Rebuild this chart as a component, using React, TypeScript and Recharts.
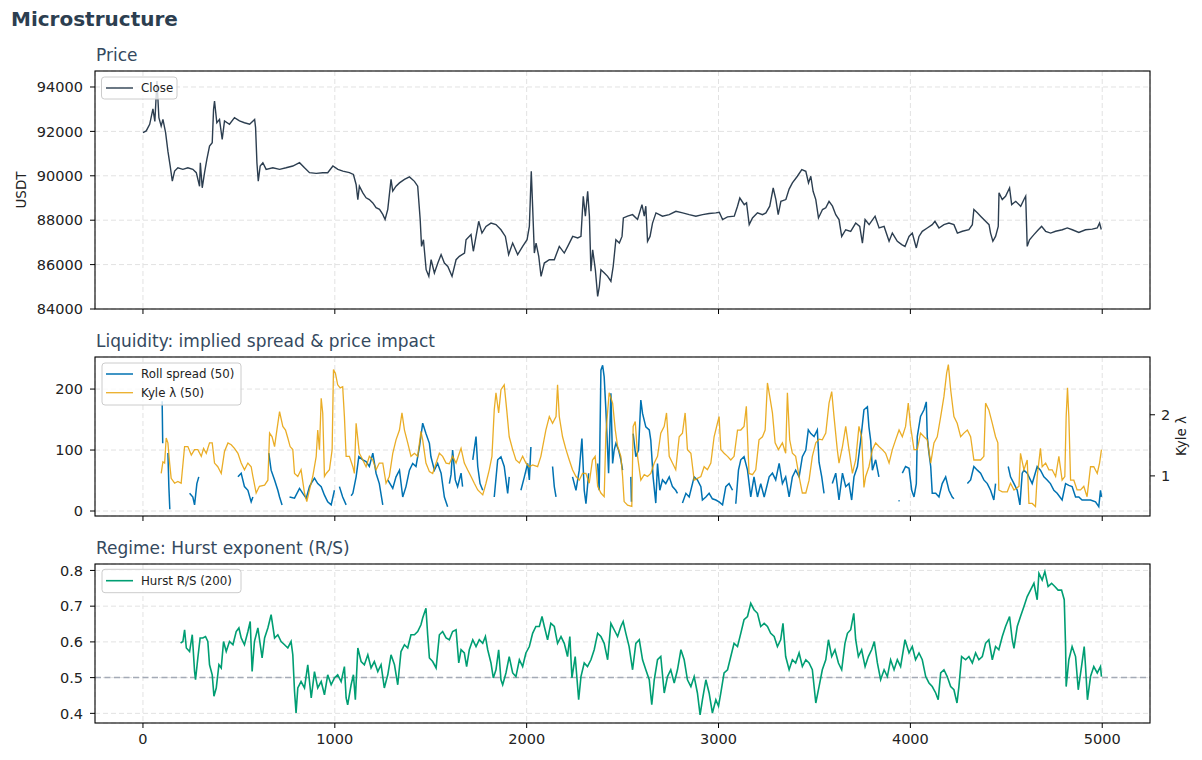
import { LineChart, Line, XAxis, YAxis, CartesianGrid, ReferenceLine } from "recharts";

const FONT = "DejaVu Sans, sans-serif";

// shared x axis (bar index)
const X_DOMAIN: [number, number] = [-250, 5249];
const X_TICKS = [0, 1000, 2000, 3000, 4000, 5000];
const PRICE_TICKS = [84000, 86000, 88000, 90000, 92000, 94000];
const SPREAD_TICKS = [0, 100, 200];
const KYLE_TICKS = [1, 2];
const HURST_TICKS = [0.4, 0.5, 0.6, 0.7, 0.8];

// [step, close]
const PRICE: [number, number][] = [
    [0, 91940], [17, 92020], [35, 92320], [52, 93010], [62, 92450], [73, 94270], [83, 92620], [95, 92240],
    [104, 92540], [118, 91940], [130, 91110], [142, 90440], [153, 89760], [165, 90210], [182, 90360], [208, 90290],
    [234, 90360], [260, 90290], [278, 90140], [295, 89530], [299, 90590], [309, 89460], [321, 90140], [333, 90740],
    [347, 91340], [361, 91490], [368, 92990], [373, 93370], [385, 92390], [399, 92540], [413, 91640], [425, 92470],
    [451, 92320], [477, 92620], [503, 92470], [529, 92390], [556, 92320], [582, 92540], [587, 92170], [594, 90590],
    [601, 89760], [611, 90440], [625, 90590], [642, 90290], [677, 90360], [712, 90290], [746, 90360], [781, 90440],
    [816, 90590], [842, 90360], [868, 90140], [903, 90110], [937, 90140], [963, 90140], [990, 90440], [1016, 90290],
    [1042, 90210], [1076, 90140], [1097, 90060], [1111, 89610], [1120, 88930], [1128, 89530], [1146, 89230], [1163, 89010],
    [1180, 88930], [1198, 88780], [1215, 88560], [1233, 88490], [1250, 88260], [1262, 88030], [1276, 88490], [1293, 89840],
    [1302, 89310], [1319, 89530], [1337, 89680], [1363, 89840], [1389, 89950], [1415, 89750], [1432, 89530], [1445, 88030],
    [1452, 86820], [1462, 87120], [1476, 85770], [1490, 85470], [1502, 86220], [1519, 85620], [1537, 86070], [1554, 86450],
    [1571, 86070], [1589, 85920], [1611, 85470], [1632, 86220], [1649, 86370], [1676, 86520], [1684, 87120], [1710, 87350],
    [1722, 86600], [1736, 87270], [1750, 87950], [1767, 87420], [1788, 87720], [1814, 87870], [1840, 87800], [1866, 87570],
    [1889, 87270], [1906, 86450], [1927, 86970], [1953, 86450], [1979, 86820], [2002, 87120], [2014, 87720], [2024, 90200],
    [2031, 88630], [2040, 86520], [2049, 86970], [2063, 86370], [2075, 85470], [2092, 86070], [2118, 86220], [2144, 86220],
    [2170, 86820], [2196, 86520], [2214, 86820], [2240, 87270], [2266, 87200], [2283, 87270], [2295, 89080], [2306, 88180],
    [2318, 89300], [2327, 88180], [2335, 85700], [2344, 86670], [2358, 85770], [2370, 84570], [2379, 85020], [2387, 85770],
    [2405, 85620], [2422, 85470], [2439, 85250], [2451, 85920], [2465, 87120], [2483, 86970], [2497, 87270], [2504, 88100],
    [2526, 88180], [2552, 88250], [2578, 88030], [2601, 88700], [2613, 88180], [2621, 88630], [2630, 87050], [2643, 87270],
    [2656, 87870], [2674, 88330], [2708, 88180], [2743, 88250], [2778, 88400], [2813, 88330], [2847, 88250], [2882, 88180],
    [2917, 88250], [2951, 88300], [2986, 88330], [3004, 88360], [3021, 88030], [3047, 88150], [3082, 88180], [3099, 88630],
    [3111, 89000], [3134, 88700], [3146, 88780], [3160, 87800], [3177, 88100], [3203, 88330], [3229, 88250], [3247, 88330],
    [3267, 88630], [3285, 89450], [3299, 88930], [3311, 88250], [3325, 88850], [3351, 88930], [3368, 89400], [3385, 89680],
    [3411, 89980], [3434, 90280], [3455, 90200], [3469, 89680], [3481, 89980], [3493, 89300], [3507, 88930], [3521, 88100],
    [3542, 88480], [3559, 88560], [3576, 88850], [3594, 88630], [3611, 88250], [3628, 88030], [3642, 87270], [3663, 87570],
    [3689, 87500], [3715, 87870], [3736, 87720], [3750, 86970], [3764, 88030], [3785, 87800], [3816, 88180], [3837, 87650],
    [3863, 87720], [3889, 87050], [3906, 87420], [3932, 87050], [3955, 86900], [3972, 86820], [3993, 87270], [4010, 87420],
    [4031, 86750], [4045, 87270], [4062, 87500], [4088, 87650], [4114, 87800], [4128, 87950], [4149, 87650], [4175, 87800],
    [4201, 87870], [4227, 87800], [4245, 87420], [4271, 87500], [4305, 87570], [4323, 87800], [4331, 88480], [4349, 88330],
    [4366, 88180], [4392, 87950], [4410, 87800], [4418, 87420], [4430, 87050], [4444, 87270], [4458, 87720], [4462, 89230],
    [4479, 88930], [4496, 89080], [4517, 89450], [4528, 88700], [4549, 88850], [4575, 88630], [4592, 88930], [4601, 89080],
    [4609, 86820], [4621, 87120], [4644, 87350], [4667, 87570], [4684, 87720], [4705, 87500], [4731, 87420], [4757, 87500],
    [4792, 87570], [4818, 87650], [4844, 87570], [4878, 87450], [4913, 87570], [4948, 87600], [4974, 87650], [4986, 87870],
    [4995, 87580],
];

// [step, roll spread]; null = gap in the series
const ROLL: [number, number | null][] = [
    [100, 180], [103, 111], [110, null],
    [130, 95], [135, 40], [140, 3], [145, null],
    [243, 29], [260, 23], [269, 10], [281, 45], [291, 56], [300, null],
    [495, 56], [512, 62], [529, 40], [547, 34], [564, 15], [573, 23], [580, null],
    [656, 95], [668, 67], [686, 51], [703, 34], [712, 23], [725, 10], [735, null],
    [764, 23], [790, 21], [816, 37], [833, 29], [851, 21], [868, 40], [882, 48], [894, 54], [911, 45], [929, 40],
    [946, 26], [963, 15], [981, 10], [998, 34], [1008, null],
    [1024, 40], [1041, 23], [1059, 10], [1070, null],
    [1085, 25], [1094, 29], [1111, 56], [1125, 89], [1146, 84], [1163, 81], [1180, 73], [1198, 95], [1215, 62],
    [1232, 45], [1250, 10], [1262, null],
    [1276, 51], [1302, 37], [1319, 56], [1337, 67], [1354, 23], [1371, 40], [1389, 67], [1406, 78], [1423, 73],
    [1441, 105], [1458, 144], [1475, 127], [1493, 111], [1501, 89], [1519, 67], [1536, 78], [1554, 62], [1571, 23],
    [1588, 7], [1592, null],
    [1597, 45], [1606, 60], [1614, 100], [1628, 51], [1640, 40], [1658, 62], [1666, 40], [1690, null],
    [1719, 84], [1736, 122], [1745, 73], [1757, 45], [1771, 34], [1800, null],
    [1831, 23], [1849, 84], [1866, 89], [1883, 73], [1901, 29], [1909, 56], [1940, null],
    [1970, 34], [1988, 56], [2005, 78], [2014, 51], [2022, 105], [2060, null],
    [2135, 73], [2144, 40], [2153, 23], [2200, null],
    [2239, 56], [2257, 34], [2274, 67], [2288, 119], [2300, 34], [2309, 12], [2323, 62], [2345, null],
    [2370, 78], [2378, 34], [2387, 231], [2396, 239], [2404, 220], [2413, 165], [2427, 62], [2439, 193], [2448, 78],
    [2456, 100], [2465, 111], [2479, 100], [2491, 84], [2500, 67], [2520, null],
    [2543, 56], [2546, 15], [2550, null],
    [2555, 127], [2569, 89], [2583, 100], [2595, 182], [2604, 160], [2621, 138], [2639, 133], [2647, 116], [2659, 56],
    [2673, 13], [2682, 78], [2694, 34], [2708, 51], [2725, 45], [2743, 56], [2760, 40], [2777, 34], [2786, 29], [2800, null],
    [2812, 13], [2830, 29], [2847, 23], [2873, 56], [2890, 51], [2908, 40], [2916, 18], [2934, 23], [2951, 29], [2968, 20],
    [2986, 18], [3003, 15], [3021, 10], [3038, 40], [3055, 45], [3073, 34], [3080, null],
    [3090, 12], [3104, 67], [3116, 84], [3133, 89], [3151, 67], [3168, 23], [3185, 56], [3203, 23], [3220, 45], [3238, 23],
    [3264, 56], [3281, 62], [3298, 51], [3316, 78], [3333, 45], [3350, 56], [3368, 23], [3385, 56], [3402, 67], [3420, 56],
    [3437, 89], [3455, 100], [3468, 133], [3481, 127], [3498, 122], [3515, 133], [3524, 80], [3538, 56], [3550, 29], [3560, null],
    [3593, 45], [3611, 62], [3628, 18], [3646, 62], [3663, 40], [3680, 45], [3694, 18], [3706, 56], [3724, 73], [3741, 116],
    [3758, 166], [3776, 171], [3784, 138], [3793, 116], [3802, 67], [3819, 84], [3836, 56], [3850, null],
    [3938, 17], [3944, 17], [3950, null],
    [3958, 62], [3975, 73], [3993, 70], [4007, 34], [4019, 23], [4031, 45], [4036, 122], [4053, 155], [4071, 166], [4083, 179],
    [4088, 122], [4097, 95], [4106, 73], [4114, 29], [4132, 29], [4149, 23], [4166, 45], [4184, 56], [4201, 34], [4218, 23],
    [4227, 20], [4250, null],
    [4297, 45], [4314, 51], [4331, 73], [4349, 67], [4366, 62], [4383, 51], [4401, 45], [4418, 34], [4435, 18], [4444, 45], [4470, null],
    [4510, 73], [4522, 56], [4540, 45], [4557, 34], [4571, 10], [4583, 62], [4592, 67], [4609, 62], [4635, 45], [4661, 73],
    [4678, 67], [4696, 56], [4713, 51], [4730, 45], [4748, 34], [4765, 29], [4791, 18], [4809, 45], [4826, 42], [4843, 40],
    [4861, 23], [4878, 23], [4895, 18], [4913, 18], [4939, 18], [4965, 15], [4982, 7], [4991, 34], [4996, 23],
];

// [step, Kyle lambda]
const KYLE: [number, number][] = [
    [95, 1.04], [104, 1.23], [113, 1.21], [121, 1.62], [130, 1.54], [139, 1.21], [147, 0.96], [165, 0.88], [182, 0.91],
    [199, 0.88], [217, 1.48], [234, 1.48], [252, 1.34], [269, 1.43], [286, 1.43], [304, 1.32], [316, 1.45], [330, 1.37],
    [347, 1.54], [361, 1.54], [373, 1.21], [390, 1.15], [408, 1.04], [425, 1.4], [443, 1.54], [460, 1.51], [477, 1.45],
    [495, 1.37], [512, 1.21], [529, 1.1], [547, 1.21], [564, 1.15], [573, 0.99], [590, 0.72], [607, 0.83], [634, 0.85],
    [651, 0.93], [660, 1.7], [673, 1.64], [686, 1.48], [698, 1.75], [712, 2.05], [729, 1.81], [743, 1.75], [755, 1.62],
    [767, 1.48], [781, 1.43], [790, 1.04], [807, 0.99], [824, 1.1], [842, 0.72], [854, 0.58], [868, 0.77], [885, 0.99],
    [903, 1.32], [911, 1.75], [920, 1.43], [929, 2.27], [937, 2.03], [946, 0.99], [955, 1.04], [972, 1.1], [986, 1.43],
    [993, 2.74], [1003, 2.68], [1015, 2.49], [1028, 2.44], [1041, 2.46], [1050, 1.97], [1059, 1.32], [1076, 1.32],
    [1094, 1.15], [1102, 1.04], [1111, 1.86], [1128, 1.37], [1146, 1.26], [1163, 1.15], [1180, 1.32], [1198, 1.26],
    [1215, 1.1], [1232, 1.21], [1250, 1.21], [1267, 0.88], [1284, 0.99], [1302, 1.37], [1319, 1.59], [1337, 1.75],
    [1350, 2.03], [1363, 1.75], [1380, 1.54], [1397, 1.32], [1415, 1.37], [1432, 1.32], [1449, 1.73], [1458, 1.59],
    [1475, 1.21], [1493, 1.07], [1510, 1.04], [1528, 1.21], [1545, 1.37], [1562, 1.32], [1580, 1.21], [1597, 1.2],
    [1614, 1.32], [1632, 1.21], [1649, 1.37], [1658, 1.45], [1675, 1.21], [1692, 1.1], [1710, 0.99], [1727, 0.88],
    [1745, 0.77], [1771, 0.69], [1788, 0.88], [1805, 1.1], [1819, 1.32], [1831, 2.08], [1840, 2.36], [1854, 2.03],
    [1866, 2.41], [1883, 2.49], [1896, 2.08], [1909, 1.64], [1927, 1.43], [1944, 1.26], [1962, 1.21], [1979, 1.32],
    [1996, 1.21], [2014, 1.15], [2031, 1.18], [2057, 1.15], [2074, 1.32], [2100, 1.75], [2118, 1.97], [2135, 1.86],
    [2153, 1.97], [2161, 2.49], [2170, 1.97], [2187, 1.64], [2205, 1.43], [2222, 1.26], [2239, 1.1], [2257, 0.99],
    [2274, 0.93], [2291, 1.04], [2309, 1.04], [2326, 0.88], [2343, 1.26], [2357, 1.32], [2370, 0.83], [2387, 0.72],
    [2404, 0.66], [2413, 1.7], [2430, 2.36], [2448, 2.19], [2462, 1.75], [2474, 1.48], [2491, 1.32], [2500, 0.99],
    [2508, 0.58], [2526, 0.52], [2548, 0.5], [2555, 1.81], [2566, 1.89], [2578, 1.32], [2595, 0.93], [2613, 1.02],
    [2630, 0.99], [2647, 1.04], [2665, 1.21], [2682, 1.32], [2699, 1.7], [2717, 1.81], [2729, 2.03], [2743, 1.32],
    [2760, 1.21], [2777, 1.1], [2795, 1.64], [2812, 1.7], [2826, 2.03], [2838, 1.43], [2856, 1.37], [2873, 0.93],
    [2890, 0.96], [2908, 0.99], [2925, 1.15], [2942, 1.1], [2960, 1.21], [2977, 1.64], [2994, 1.86], [3003, 1.97],
    [3012, 1.43], [3029, 1.37], [3047, 1.32], [3064, 1.26], [3081, 1.32], [3099, 1.75], [3116, 1.75], [3133, 1.81],
    [3145, 2.14], [3159, 1.04], [3177, 1.02], [3194, 1.1], [3211, 1.59], [3229, 1.64], [3243, 1.75], [3255, 2.52],
    [3267, 2.3], [3281, 2.03], [3295, 1.54], [3312, 1.43], [3333, 1.54], [3350, 1.37], [3359, 2.36], [3371, 1.59],
    [3385, 1.37], [3402, 1.32], [3420, 0.99], [3437, 0.72], [3455, 0.72], [3472, 0.93], [3489, 1.32], [3507, 1.54],
    [3524, 1.6], [3541, 1.59], [3559, 1.7], [3576, 2.19], [3590, 2.38], [3602, 1.97], [3619, 1.43], [3628, 1.21],
    [3646, 1.48], [3663, 1.81], [3680, 1.43], [3698, 1.04], [3715, 1.26], [3732, 1.81], [3746, 1.64], [3758, 0.81],
    [3767, 0.99], [3784, 1.15], [3802, 1.43], [3819, 1.54], [3836, 1.48], [3854, 1.43], [3871, 1.37], [3889, 1.21],
    [3906, 1.43], [3923, 1.59], [3941, 1.75], [3958, 1.64], [3975, 1.81], [3989, 2.19], [4001, 1.81], [4019, 1.43],
    [4036, 1.43], [4053, 1.7], [4071, 1.64], [4088, 1.59], [4106, 1.21], [4123, 1.54], [4140, 1.64], [4158, 1.97],
    [4175, 2.3], [4189, 2.68], [4198, 2.82], [4210, 2.41], [4227, 1.97], [4244, 1.86], [4262, 1.64], [4279, 1.7],
    [4297, 1.75], [4314, 1.64], [4331, 1.26], [4349, 1.26], [4366, 1.26], [4383, 1.32], [4392, 2.19], [4409, 2.08],
    [4427, 1.86], [4444, 1.64], [4456, 1.54], [4461, 0.77], [4479, 0.74], [4505, 0.74], [4522, 0.88], [4540, 0.77],
    [4566, 0.83], [4574, 1.37], [4592, 1.1], [4609, 1.26], [4618, 0.55], [4635, 0.55], [4652, 0.5], [4661, 0.99],
    [4678, 1.45], [4687, 1.15], [4705, 1.21], [4722, 1.1], [4739, 1.1], [4757, 0.99], [4774, 1.32], [4791, 0.93],
    [4805, 0.99], [4812, 1.97], [4819, 2.44], [4826, 1.97], [4835, 0.93], [4852, 0.93], [4869, 0.77], [4887, 0.77],
    [4904, 0.83], [4921, 0.66], [4939, 1.15], [4956, 1.15], [4974, 1.04], [4986, 1.21], [4996, 1.43],
];

// [step, Hurst R/S]
const HURST: [number, number][] = [
    [196, 0.597], [208, 0.601], [217, 0.634], [226, 0.583], [243, 0.573], [257, 0.62], [269, 0.517], [274, 0.494],
    [286, 0.555], [298, 0.611], [312, 0.611], [326, 0.615], [338, 0.601], [347, 0.536], [361, 0.508], [370, 0.448],
    [382, 0.471], [396, 0.536], [408, 0.527], [420, 0.601], [434, 0.573], [451, 0.601], [469, 0.592], [486, 0.629],
    [500, 0.639], [512, 0.611], [529, 0.592], [547, 0.629], [559, 0.657], [569, 0.517], [581, 0.601], [599, 0.639],
    [621, 0.555], [634, 0.611], [651, 0.639], [668, 0.676], [686, 0.611], [703, 0.62], [720, 0.601], [738, 0.592],
    [755, 0.583], [772, 0.601], [781, 0.564], [790, 0.462], [798, 0.401], [807, 0.471], [824, 0.489], [842, 0.471],
    [859, 0.536], [877, 0.443], [894, 0.517], [911, 0.471], [929, 0.489], [946, 0.452], [963, 0.508], [981, 0.48],
    [998, 0.499], [1015, 0.508], [1033, 0.489], [1050, 0.531], [1059, 0.443], [1067, 0.424], [1085, 0.48], [1097, 0.508],
    [1107, 0.438], [1120, 0.583], [1137, 0.545], [1154, 0.536], [1172, 0.564], [1189, 0.527], [1206, 0.545], [1224, 0.517],
    [1241, 0.536], [1258, 0.471], [1276, 0.508], [1293, 0.564], [1311, 0.536], [1328, 0.48], [1345, 0.573], [1363, 0.592],
    [1380, 0.583], [1397, 0.62], [1415, 0.62], [1432, 0.629], [1449, 0.648], [1458, 0.667], [1475, 0.694], [1484, 0.62],
    [1493, 0.555], [1510, 0.545], [1528, 0.527], [1545, 0.62], [1562, 0.629], [1580, 0.611], [1597, 0.606], [1614, 0.629],
    [1632, 0.634], [1646, 0.541], [1658, 0.578], [1675, 0.569], [1687, 0.531], [1701, 0.578], [1719, 0.606], [1736, 0.587],
    [1753, 0.606], [1771, 0.596], [1785, 0.615], [1797, 0.578], [1814, 0.541], [1826, 0.499], [1840, 0.522], [1854, 0.578],
    [1866, 0.494], [1875, 0.48], [1892, 0.513], [1909, 0.559], [1927, 0.513], [1944, 0.503], [1962, 0.55], [1979, 0.531],
    [1996, 0.569], [2014, 0.587], [2031, 0.624], [2048, 0.643], [2066, 0.643], [2080, 0.671], [2092, 0.643], [2109, 0.606],
    [2126, 0.652], [2144, 0.643], [2161, 0.596], [2179, 0.615], [2196, 0.596], [2213, 0.559], [2225, 0.615], [2236, 0.499],
    [2253, 0.559], [2271, 0.438], [2283, 0.503], [2300, 0.541], [2317, 0.531], [2335, 0.55], [2352, 0.578], [2370, 0.624],
    [2387, 0.615], [2404, 0.596], [2422, 0.55], [2439, 0.652], [2456, 0.634], [2474, 0.615], [2491, 0.643], [2503, 0.657],
    [2517, 0.624], [2534, 0.587], [2552, 0.522], [2569, 0.596], [2587, 0.606], [2604, 0.55], [2621, 0.522], [2639, 0.494],
    [2652, 0.424], [2665, 0.494], [2682, 0.55], [2699, 0.559], [2717, 0.457], [2734, 0.503], [2751, 0.522], [2769, 0.485],
    [2786, 0.522], [2804, 0.578], [2821, 0.55], [2838, 0.494], [2856, 0.475], [2873, 0.503], [2890, 0.457], [2904, 0.396],
    [2916, 0.438], [2934, 0.494], [2951, 0.457], [2968, 0.401], [2986, 0.438], [3000, 0.42], [3012, 0.457], [3029, 0.513],
    [3047, 0.522], [3064, 0.559], [3081, 0.596], [3099, 0.587], [3116, 0.624], [3133, 0.662], [3151, 0.671], [3168, 0.708],
    [3185, 0.69], [3203, 0.68], [3220, 0.643], [3238, 0.652], [3255, 0.643], [3272, 0.624], [3290, 0.615], [3307, 0.587],
    [3324, 0.606], [3336, 0.652], [3350, 0.559], [3368, 0.522], [3385, 0.55], [3402, 0.541], [3420, 0.569], [3437, 0.531],
    [3455, 0.55], [3472, 0.541], [3489, 0.522], [3507, 0.429], [3524, 0.475], [3541, 0.522], [3559, 0.55], [3573, 0.606],
    [3590, 0.559], [3607, 0.578], [3625, 0.541], [3642, 0.522], [3659, 0.596], [3672, 0.624], [3689, 0.634], [3705, 0.68],
    [3715, 0.606], [3729, 0.559], [3746, 0.578], [3764, 0.531], [3781, 0.559], [3798, 0.578], [3812, 0.601], [3828, 0.541],
    [3845, 0.494], [3863, 0.522], [3880, 0.503], [3897, 0.55], [3915, 0.522], [3932, 0.55], [3949, 0.531], [3972, 0.606],
    [3993, 0.569], [4010, 0.587], [4027, 0.55], [4045, 0.569], [4062, 0.55], [4080, 0.503], [4097, 0.485], [4114, 0.475],
    [4132, 0.457], [4145, 0.438], [4158, 0.513], [4175, 0.522], [4192, 0.503], [4210, 0.475], [4227, 0.466], [4243, 0.429],
    [4253, 0.475], [4267, 0.559], [4288, 0.55], [4305, 0.559], [4323, 0.541], [4340, 0.569], [4357, 0.55], [4375, 0.559],
    [4392, 0.596], [4409, 0.606], [4427, 0.55], [4444, 0.587], [4461, 0.578], [4479, 0.615], [4496, 0.643], [4517, 0.671],
    [4531, 0.606], [4540, 0.582], [4557, 0.643], [4574, 0.671], [4592, 0.699], [4609, 0.727], [4626, 0.745], [4644, 0.764],
    [4661, 0.718], [4670, 0.792], [4687, 0.773], [4701, 0.797], [4718, 0.755], [4736, 0.764], [4753, 0.755], [4770, 0.745],
    [4788, 0.745], [4802, 0.718], [4809, 0.587], [4812, 0.475], [4826, 0.55], [4843, 0.587], [4861, 0.559], [4875, 0.466],
    [4892, 0.531], [4906, 0.587], [4913, 0.531], [4923, 0.438], [4939, 0.503], [4956, 0.531], [4974, 0.513], [4991, 0.531],
    [4996, 0.503],
];

const toRows = (pairs: [number, number | null][]) => pairs.map(([step, value]) => ({ step, value }));

const tickStyle = { fontSize: 14.5, fill: "#222", fontFamily: FONT };
const gridStroke = "#e2e2e2";

// plot frames (matplotlib spines)
const FRAMES = [
    { y: 71, h: 238 },
    { y: 357, h: 159 },
    { y: 564, h: 159 },
];

export default function App() {
    const priceRows = toRows(PRICE);
    const rollRows = toRows(ROLL);
    const kyleRows = toRows(KYLE);
    const hurstRows = toRows(HURST);

    const xAxisCommon = {
        type: "number" as const,
        dataKey: "step",
        domain: X_DOMAIN,
        ticks: X_TICKS,
        allowDataOverflow: true,
        axisLine: false,
        tickLine: { stroke: "#000" },
        tickSize: 5,
    };

    return (
        <div style={{ position: "absolute", left: 0, top: 0, width: 1202, height: 760, background: "#fff" }}>
            <div style={{ position: "absolute", left: 0, top: 0 }}>
                <LineChart width={1202} height={329} margin={{ top: 71, right: 52, bottom: 0, left: 0 }}>
                    <CartesianGrid stroke={gridStroke} strokeDasharray="5 3" />
                    <XAxis {...xAxisCommon} height={20} tickFormatter={() => ""} />
                    <YAxis
                        type="number"
                        domain={[84000, 94720]}
                        ticks={PRICE_TICKS}
                        allowDataOverflow
                        axisLine={false}
                        tickLine={{ stroke: "#000" }}
                        tickSize={5}
                        tickMargin={7}
                        width={95}
                        tick={tickStyle}
                    />
                    <Line data={priceRows} dataKey="value" stroke="#2c3e50" strokeWidth={1.4} dot={false} isAnimationActive={false} />
                </LineChart>
            </div>

            <div style={{ position: "absolute", left: 0, top: 330 }}>
                <LineChart width={1202} height={206} margin={{ top: 27, right: 0, bottom: 0, left: 0 }}>
                    <CartesianGrid stroke={gridStroke} strokeDasharray="5 3" yAxisId="left" />
                    <XAxis {...xAxisCommon} height={20} tickFormatter={() => ""} />
                    <YAxis
                        yAxisId="left"
                        type="number"
                        domain={[-8.2, 252.6]}
                        ticks={SPREAD_TICKS}
                        allowDataOverflow
                        axisLine={false}
                        tickLine={{ stroke: "#000" }}
                        tickSize={5}
                        tickMargin={7}
                        width={95}
                        tick={tickStyle}
                    />
                    <YAxis
                        yAxisId="right"
                        orientation="right"
                        type="number"
                        domain={[0.344, 2.945]}
                        ticks={KYLE_TICKS}
                        allowDataOverflow
                        axisLine={false}
                        tickLine={{ stroke: "#000" }}
                        tickSize={5}
                        tickMargin={6}
                        width={52}
                        tick={tickStyle}
                    />
                    <Line yAxisId="left" data={rollRows} dataKey="value" stroke="#0072b2" strokeWidth={1.5} dot={false} connectNulls={false} isAnimationActive={false} />
                    <Line yAxisId="right" data={kyleRows} dataKey="value" stroke="#e69f00" strokeOpacity={0.85} strokeWidth={1.3} dot={false} isAnimationActive={false} />
                </LineChart>
            </div>

            <div style={{ position: "absolute", left: 0, top: 540 }}>
                <LineChart width={1202} height={213} margin={{ top: 24, right: 52, bottom: 0, left: 0 }}>
                    <CartesianGrid stroke={gridStroke} strokeDasharray="5 3" />
                    <XAxis {...xAxisCommon} height={30} tickMargin={6} tick={tickStyle} />
                    <YAxis
                        type="number"
                        domain={[0.373, 0.818]}
                        ticks={HURST_TICKS}
                        allowDataOverflow
                        axisLine={false}
                        tickLine={{ stroke: "#000" }}
                        tickSize={5}
                        tickMargin={7}
                        width={95}
                        tick={tickStyle}
                        tickFormatter={(v: number) => v.toFixed(1)}
                    />
                    <ReferenceLine y={0.5} stroke="#a4aab6" strokeWidth={1.5} strokeDasharray="6 3.5" />
                    <Line data={hurstRows} dataKey="value" stroke="#009e73" strokeWidth={1.6} dot={false} isAnimationActive={false} />
                </LineChart>
            </div>

            <svg
                width={1202}
                height={760}
                style={{ position: "absolute", left: 0, top: 0, pointerEvents: "none" }}
                fontFamily={FONT}
            >
                {FRAMES.map((f, i) => (
                    <rect key={i} x={95} y={f.y} width={1055} height={f.h} fill="none" stroke="#000" strokeWidth={1.1} />
                ))}

                <text x={11} y={26} fontSize={20} fontWeight="bold" fill="#2c3e50">Microstructure</text>
                <text x={96} y={61} fontSize={17} fill="#34495e">Price</text>
                <text x={96} y={347} fontSize={17} fill="#34495e">Liquidity: implied spread &amp; price impact</text>
                <text x={96} y={554} fontSize={17} fill="#34495e">Regime: Hurst exponent (R/S)</text>

                <text x={25.5} y={190} fontSize={13.5} fill="#222" textAnchor="middle" transform="rotate(-90 25.5 190)">USDT</text>
                <text x={1186} y={436} fontSize={13.5} fill="#222" textAnchor="middle" transform="rotate(-90 1186 436)">Kyle λ</text>

                {/* legends */}
                <rect x={101.5} y={77} width={75.5} height={22} rx={3} fill="#fff" fillOpacity={0.8} stroke="#cccccc" />
                <line x1={106} x2={133} y1={88} y2={88} stroke="#2c3e50" strokeWidth={1.4} />
                <text x={141} y={92} fontSize={11.8} fill="#222">Close</text>

                <rect x={102} y={363} width={139} height={42} rx={3} fill="#fff" fillOpacity={0.8} stroke="#cccccc" />
                <line x1={106} x2={133} y1={374} y2={374} stroke="#0072b2" strokeWidth={1.5} />
                <text x={141} y={378} fontSize={11.8} fill="#222">Roll spread (50)</text>
                <line x1={106} x2={133} y1={392.7} y2={392.7} stroke="#e69f00" strokeOpacity={0.85} strokeWidth={1.3} />
                <text x={141} y={396.7} fontSize={11.8} fill="#222">Kyle λ (50)</text>

                <rect x={102} y={569.3} width={139} height={23.4} rx={3} fill="#fff" fillOpacity={0.8} stroke="#cccccc" />
                <line x1={106} x2={133} y1={580.7} y2={580.7} stroke="#009e73" strokeWidth={1.6} />
                <text x={141} y={584.7} fontSize={11.8} fill="#222">Hurst R/S (200)</text>
            </svg>
        </div>
    );
}
